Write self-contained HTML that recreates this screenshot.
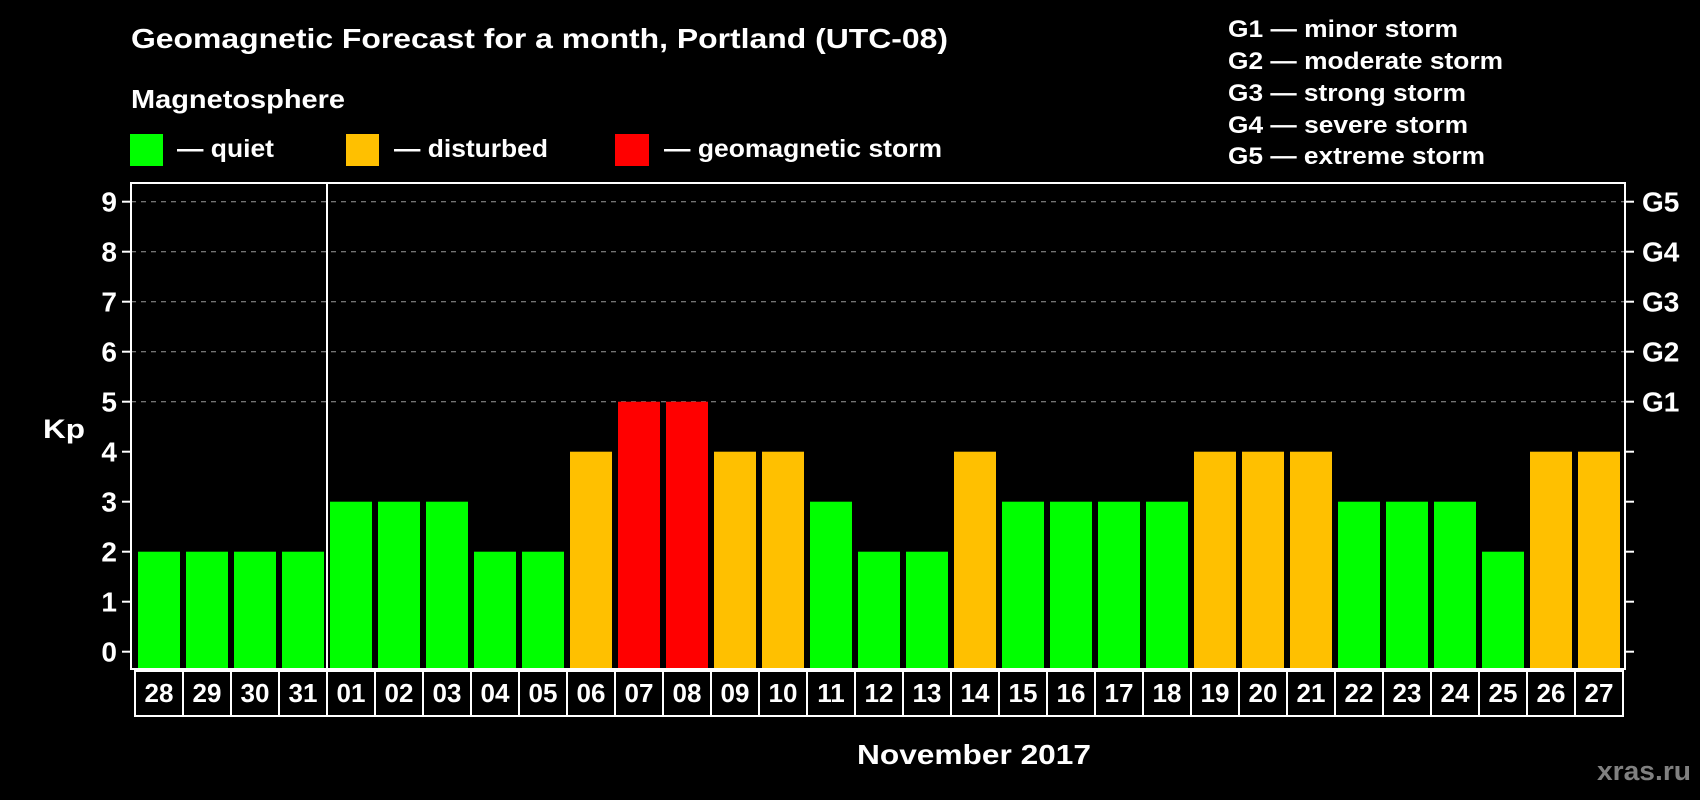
<!DOCTYPE html>
<html><head><meta charset="utf-8"><style>
html,body{margin:0;padding:0;background:#000;}
svg{display:block;font-family:"Liberation Sans",Arial,sans-serif;font-weight:bold;}
</style></head><body>
<svg id="chart" width="1700" height="800" viewBox="0 0 1700 800">
<rect x="0" y="0" width="1700" height="800" fill="#000"/>
<text x="131" y="48" font-size="28" fill="#fff" textLength="817" lengthAdjust="spacingAndGlyphs">Geomagnetic Forecast for a month, Portland (UTC-08)</text>
<text x="131" y="108" font-size="26" fill="#fff" textLength="214" lengthAdjust="spacingAndGlyphs">Magnetosphere</text>
<g>
<rect x="130" y="134" width="33" height="32" fill="#00ff00"/>
<text x="177" y="157" font-size="25" fill="#fff" textLength="97" lengthAdjust="spacingAndGlyphs">— quiet</text>
<rect x="346" y="134" width="33" height="32" fill="#ffc000"/>
<text x="394" y="157" font-size="25" fill="#fff" textLength="154" lengthAdjust="spacingAndGlyphs">— disturbed</text>
<rect x="615" y="134" width="34" height="32" fill="#ff0000"/>
<text x="664" y="157" font-size="25" fill="#fff" textLength="278" lengthAdjust="spacingAndGlyphs">— geomagnetic storm</text>
</g>
<g font-size="24" fill="#fff">
<text x="1228" y="37" textLength="230" lengthAdjust="spacingAndGlyphs">G1 — minor storm</text>
<text x="1228" y="69" textLength="275" lengthAdjust="spacingAndGlyphs">G2 — moderate storm</text>
<text x="1228" y="101" textLength="238" lengthAdjust="spacingAndGlyphs">G3 — strong storm</text>
<text x="1228" y="133" textLength="240" lengthAdjust="spacingAndGlyphs">G4 — severe storm</text>
<text x="1228" y="164" textLength="257" lengthAdjust="spacingAndGlyphs">G5 — extreme storm</text>
</g>
<text x="43" y="438" font-size="27" fill="#fff" textLength="42" lengthAdjust="spacingAndGlyphs">Kp</text>
<text x="857" y="764" font-size="28" fill="#fff" textLength="234" lengthAdjust="spacingAndGlyphs">November 2017</text>
<text x="1597" y="780" font-size="27" fill="#808080" textLength="94" lengthAdjust="spacingAndGlyphs">xras.ru</text>
<g id="plot"></g>
</svg>
<script>
const days = ["28","29","30","31","01","02","03","04","05","06","07","08","09","10","11","12","13","14","15","16","17","18","19","20","21","22","23","24","25","26","27"];
const kpValues = [2,2,2,2,3,3,3,2,2,4,5,5,4,4,3,2,2,4,3,3,3,3,4,4,4,3,3,3,2,4,4];
const yTicks = [0,1,2,3,4,5,6,7,8,9];
const gLabels = ["G1","G2","G3","G4","G5"];
const gLevels = [5,6,7,8,9];

(function(){
const NS = "http://www.w3.org/2000/svg";
const plot = document.getElementById("plot");
const pLeft = 131, pRight = 1625, pTop = 183, pBottom = 669;
const slot0 = 134, slotW = 48;
function y(v){ return 651.7 - v * 50; }
function x(i){ return slot0 + i * slotW; }
function color(v){ return v >= 5 ? "#ff0000" : (v >= 4 ? "#ffc000" : "#00ff00"); }
function mk(tag, attrs){ const e = document.createElementNS(NS, tag); for (const k in attrs) e.setAttribute(k, attrs[k]); plot.appendChild(e); return e; }

yTicks.forEach(t => {
  if (t >= 5) {
    const g = mk("line", {x1:pLeft, x2:pRight, y1:y(t), y2:y(t), stroke:"#9a9a9a", "stroke-width":1, "stroke-dasharray":"5,5"});
    
    
  }
  const tl = mk("line", {x1:pLeft-9, x2:pLeft, y1:y(t), y2:y(t), stroke:"#fff", "stroke-width":2});
  
  
  const tr = mk("line", {x1:pRight, x2:pRight+9, y1:y(t), y2:y(t), stroke:"#fff", "stroke-width":2});
  
  
  const lb = mk("text", {x:117, y:y(t)+10, "font-size":28, fill:"#fff", "text-anchor":"end"});
  lb.textContent = t;
  
  
});
gLabels.forEach((g, i) => {
  const t = mk("text", {x:1642, y:y(gLevels[i])+10, "font-size":28, fill:"#fff"});
  t.textContent = g;
  
  
});
kpValues.forEach((v, i) => {
  const b = mk("rect", {x:x(i)+4, y:y(v), width:42, height:(pBottom-1) - y(v), fill:color(v)});
  
  
});
const fr = mk("rect", {x:pLeft, y:pTop, width:pRight-pLeft, height:pBottom-pTop, fill:"none", stroke:"#fff", "stroke-width":2});


const sep = mk("line", {x1:327, x2:327, y1:pTop, y2:pBottom, stroke:"#fff", "stroke-width":2});


days.forEach((d, i) => {
  const c = mk("rect", {x:x(i)+1, y:671, width:slotW, height:45, fill:"none", stroke:"#fff", "stroke-width":2});
  
  
  const t = mk("text", {x:x(i)+slotW/2+1, y:702, "font-size":26, fill:"#fff", "text-anchor":"middle"});
  t.textContent = d;
  
  
});
})();
</script>
</body></html>
